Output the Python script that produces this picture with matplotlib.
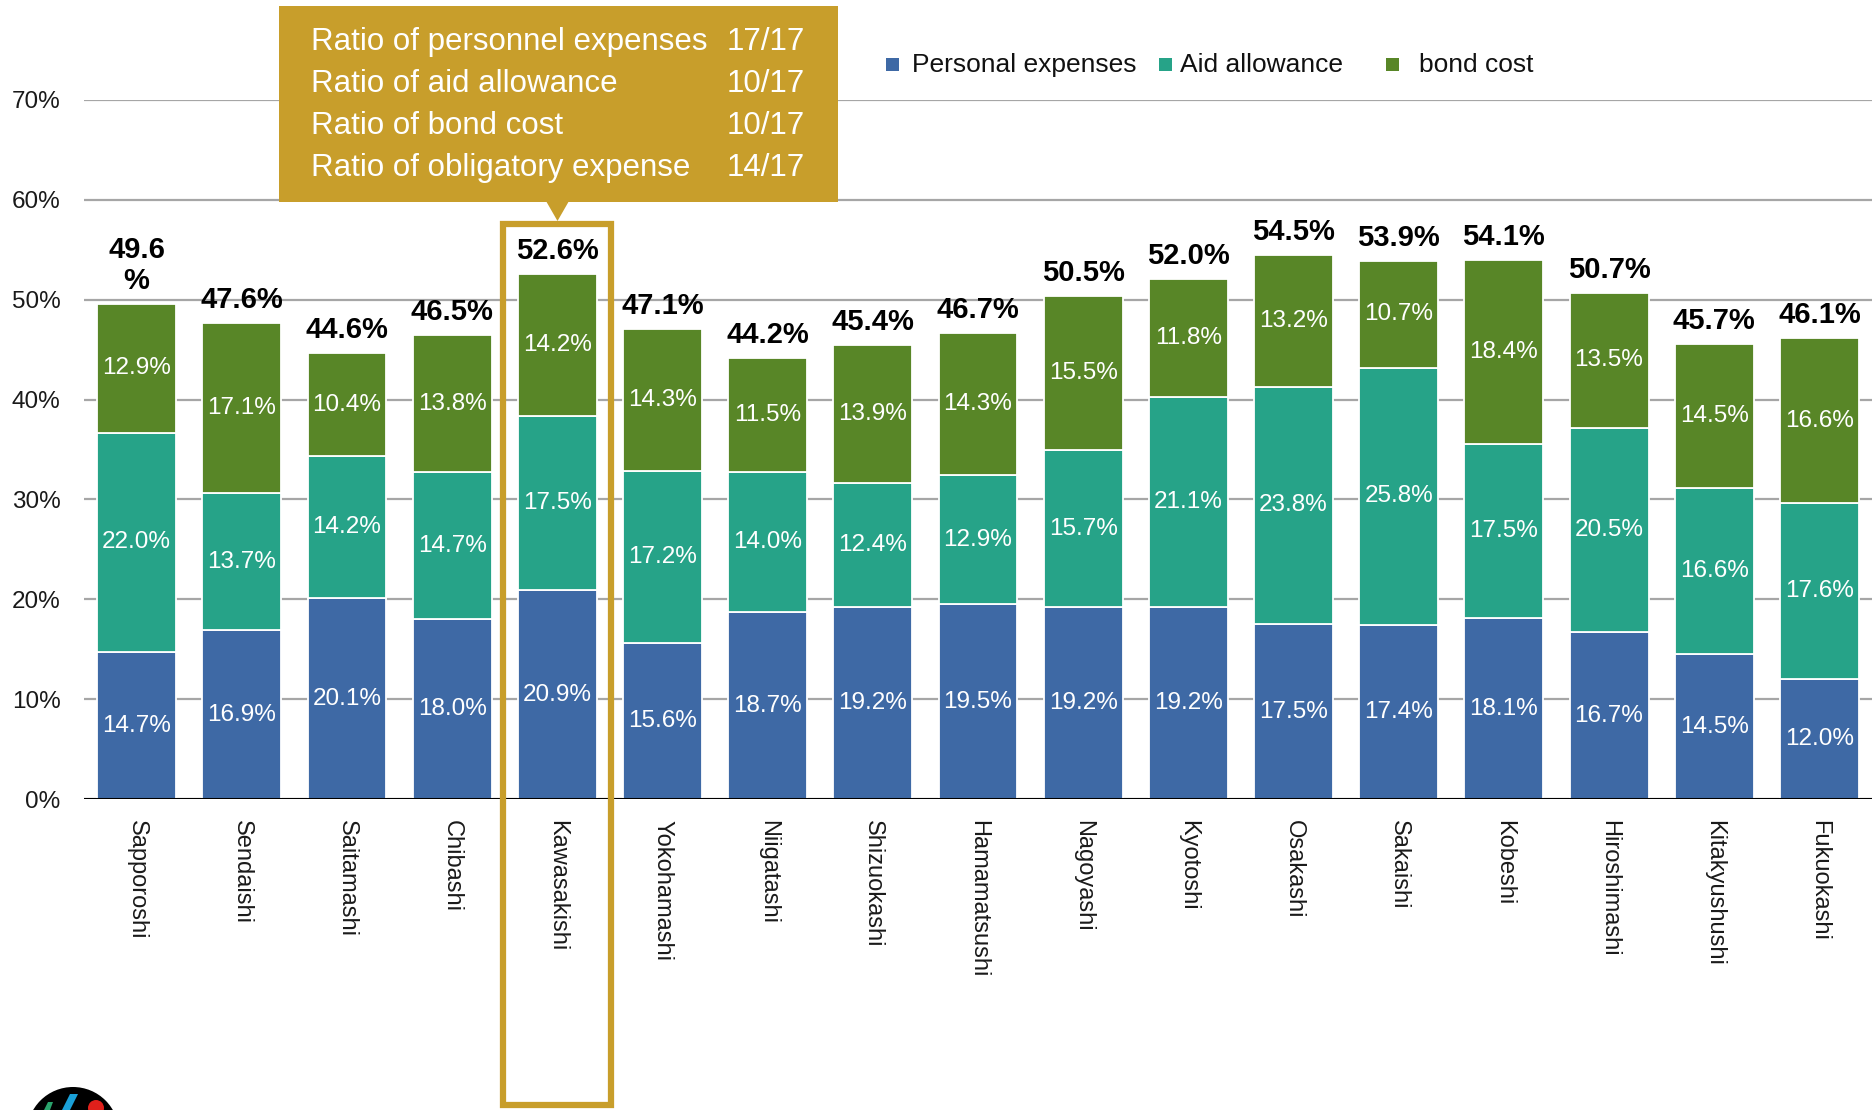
import matplotlib
matplotlib.use("Agg")
import matplotlib.pyplot as plt
import matplotlib.patches as mpatches
import matplotlib.transforms as mtransforms
from matplotlib import font_manager
from matplotlib.font_manager import FontProperties
import numpy as np

# share of obligatory expenses in the 17 designated cities (%)
cities = ["Sapporoshi", "Sendaishi", "Saitamashi", "Chibashi", "Kawasakishi",
          "Yokohamashi", "Niigatashi", "Shizuokashi", "Hamamatsushi", "Nagoyashi",
          "Kyotoshi", "Osakashi", "Sakaishi", "Kobeshi", "Hiroshimashi",
          "Kitakyushushi", "Fukuokashi"]
personnel = [14.7, 16.9, 20.1, 18.0, 20.9, 15.6, 18.7, 19.2, 19.5, 19.2,
             19.2, 17.5, 17.4, 18.1, 16.7, 14.5, 12.0]
aid = [22.0, 13.7, 14.2, 14.7, 17.5, 17.2, 14.0, 12.4, 12.9, 15.7,
       21.1, 23.8, 25.8, 17.5, 20.5, 16.6, 17.6]
bond = [12.9, 17.1, 10.4, 13.8, 14.2, 14.3, 11.5, 13.9, 14.3, 15.5,
        11.8, 13.2, 10.7, 18.4, 13.5, 14.5, 16.6]
totals = [49.6, 47.6, 44.6, 46.5, 52.6, 47.1, 44.2, 45.4, 46.7, 50.5,
          52.0, 54.5, 53.9, 54.1, 50.7, 45.7, 46.1]

series_names = ["Personal expenses", "Aid allowance", "bond cost"]
series_colors = ["#3e69a5", "#26a388", "#588627"]
gold = "#c89e2b"

highlight_city = "Kawasakishi"
rank_rows = [("Ratio of personnel expenses", "17/17"),
             ("Ratio of aid allowance", "10/17"),
             ("Ratio of bond cost", "10/17"),
             ("Ratio of obligatory expense", "14/17")]


def pick_font(*names):
    for name in names:
        try:
            font_manager.findfont(FontProperties(family=name), fallback_to_default=False)
            return name
        except ValueError:
            continue
    return "DejaVu Sans"


main_font = pick_font("Liberation Sans", "Arial", "DejaVu Sans")
narrow_font = pick_font("Liberation Sans Narrow", "Arial Narrow")
narrow_ok = narrow_font != "DejaVu Sans"
if not narrow_ok:
    narrow_font = main_font
plt.rcParams["font.family"] = [main_font, "DejaVu Sans"]

W, H = 1872, 1110
fig = plt.figure(figsize=(W / 100, H / 100), dpi=100)
ax = fig.add_axes([84 / W, 311 / H, 1788 / W, 699 / H])

# pixel transform with the origin at the top-left corner of the figure
px = mtransforms.Affine2D().scale(1 / W, -1 / H).translate(0, 1) + fig.transFigure

x = np.arange(len(cities))
bottom = np.zeros(len(cities))
for vals, color in zip([personnel, aid, bond], series_colors):
    bars = ax.bar(x, vals, 0.75, bottom=bottom, color=color,
                  edgecolor="white", linewidth=1.3, zorder=3)
    ax.bar_label(bars, labels=[f"{v:.1f}%" for v in vals], label_type="center",
                 color="white", fontsize=17.5)
    bottom += np.array(vals)

# totals above each stack
for xi, top, tot in zip(x, bottom, totals):
    lab = f"{tot:.1f}%"
    if xi == 0:
        lab = f"{tot:.1f}\n%"
    ax.annotate(lab, (xi, top), xytext=(0, 6), textcoords="offset points",
                ha="center", va="bottom", fontsize=21, fontweight="bold",
                linespacing=1.15, color="black", zorder=5)

ax.set_xlim(-0.5, len(cities) - 0.5)
ax.set_ylim(0, 70)
ax.set_yticks(range(0, 71, 10))
ax.set_yticklabels([f"{v}%" for v in range(0, 71, 10)], fontsize=20 if narrow_ok else 17.5,
                   family=narrow_font, color="#1a1a1a")
ax.set_xticks(x)
ax.set_xticklabels(cities, rotation=270, fontsize=17, color="#1a1a1a")
ax.tick_params(axis="y", length=0, pad=17)
ax.tick_params(axis="x", length=0, pad=15)
ax.yaxis.grid(True, color="#a6a6a6", linewidth=1.6)
ax.set_axisbelow(True)
ax.axhline(0, color="black", linewidth=2.2, zorder=4)
for s in ax.spines.values():
    s.set_visible(False)

# legend across the top
legend_pos = [(886, 912), (1159, 1180), (1386, 1419)]
for name, color, (sx, tx) in zip(series_names, series_colors, legend_pos):
    fig.patches.append(mpatches.Rectangle((sx, 58), 13, 13, transform=px,
                                          facecolor=color, edgecolor="none"))
    fig.text(tx, 65, name, transform=px, ha="left", va="center",
             fontsize=19, color="#111111")

# ranking callout pointing at the highlighted city
fig.patches.append(mpatches.Rectangle((279, 6), 559, 196, transform=px,
                                      facecolor=gold, edgecolor="none"))
fig.patches.append(mpatches.Polygon([(546, 201), (569, 201), (557.5, 221)],
                                    closed=True, transform=px,
                                    facecolor=gold, edgecolor="none"))
for i, (label, rank) in enumerate(rank_rows):
    y = 42 + i * 42
    fig.text(311, y, label, transform=px, ha="left", va="center",
             fontsize=22.5, color="white")
    fig.text(805, y, rank, transform=px, ha="right", va="center",
             fontsize=22.5, color="white")

hx = cities.index(highlight_city)
blend = mtransforms.blended_transform_factory(ax.transData, px)
ax.add_patch(mpatches.Rectangle((hx - 0.513, 224), 1.026, 881, transform=blend,
                                fill=False, edgecolor=gold, linewidth=4.5,
                                clip_on=False, zorder=6))

# logo mark in the lower-left corner
fig.patches.append(mpatches.Circle((73, 1133), 46, transform=px,
                                   facecolor="black", edgecolor="none"))
fig.patches.append(mpatches.Polygon([(62, 1110), (70, 1094), (78, 1094), (70, 1110)],
                                    transform=px, facecolor="#1aa0d8", edgecolor="none"))
fig.patches.append(mpatches.Circle((96, 1108), 8, transform=px,
                                   facecolor="#e0201b", edgecolor="none"))
fig.patches.append(mpatches.Polygon([(44, 1110), (48, 1102), (53, 1102), (50, 1110)],
                                    transform=px, facecolor="#2aa36b", edgecolor="none"))

fig.savefig("out.png", dpi=100)
